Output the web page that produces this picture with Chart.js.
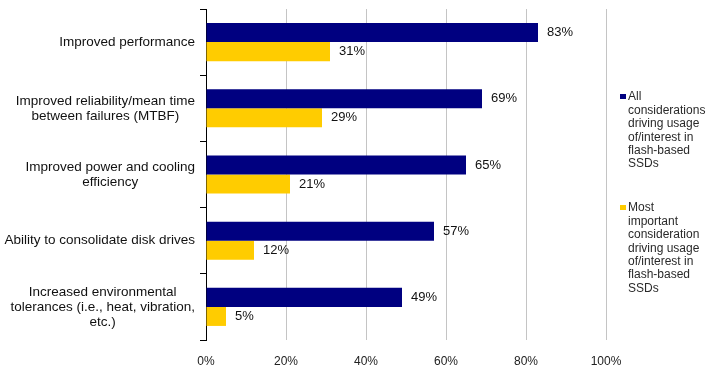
<!DOCTYPE html>
<html>
<head>
<meta charset="utf-8">
<script src="https://cdn.jsdelivr.net/npm/chart.js@4.4.1/dist/chart.umd.min.js"></script>
<style>
  html, body { margin: 0; padding: 0; background: #fff; }
  #wrap { width: 713px; height: 381px; position: relative; }
</style>
</head>
<body>
<div id="wrap"><canvas id="ssdChart"></canvas></div>
<script>
const categories = [
  ['Improved performance'],
  ['Improved reliability/mean time', 'between failures (MTBF)'],
  ['Improved power and cooling', 'efficiency'],
  ['Ability to consolidate disk drives'],
  ['Increased environmental', 'tolerances (i.e., heat, vibration,', 'etc.)']
];
const allConsiderations = [83, 69, 65, 57, 49];
const mostImportant = [31, 29, 21, 12, 5];
const tickValues = [0, 20, 40, 60, 80, 100];

const seriesNames = [
  ['All', 'considerations', 'driving usage', 'of/interest in', 'flash-based', 'SSDs'],
  ['Most', 'important', 'consideration', 'driving usage', 'of/interest in', 'flash-based', 'SSDs']
];

const FONT = '"Liberation Sans", Arial, sans-serif';

// category labels: block right-aligned, lines centred inside the block
const categoryLabels = {
  id: 'categoryLabels',
  afterDraw(chart) {
    const ctx = chart.ctx;
    const y = chart.scales.y;
    const right = chart.chartArea.left - 11;
    const lh = 15;
    ctx.save();
    ctx.font = '13.5px ' + FONT;
    ctx.fillStyle = '#111';
    ctx.textAlign = 'center';
    ctx.textBaseline = 'middle';
    categories.forEach((lines, i) => {
      const cy = y.getPixelForTick(i);
      const widest = Math.max(...lines.map(l => ctx.measureText(l).width));
      const cx = right - widest / 2;
      lines.forEach((l, j) => {
        ctx.fillText(l, cx, cy + (j - (lines.length - 1) / 2) * lh);
      });
    });
    ctx.restore();
  }
};

const valueLabels = {
  id: 'valueLabels',
  afterDatasetsDraw(chart) {
    const ctx = chart.ctx;
    ctx.save();
    ctx.font = '13px ' + FONT;
    ctx.fillStyle = '#111';
    ctx.textAlign = 'left';
    ctx.textBaseline = 'middle';
    chart.data.datasets.forEach((ds, di) => {
      chart.getDatasetMeta(di).data.forEach((bar, i) => {
        ctx.fillText(ds.data[i] + '%', bar.x + 9, bar.y);
      });
    });
    ctx.restore();
  }
};

const sideLegend = {
  id: 'sideLegend',
  afterDraw(chart) {
    const ctx = chart.ctx;
    const colors = ['#000080', '#FFCC00'];
    const starts = [97, 208];
    const lh = 13.4;
    ctx.save();
    ctx.font = '12px ' + FONT;
    ctx.textAlign = 'left';
    ctx.textBaseline = 'middle';
    seriesNames.forEach((lines, s) => {
      ctx.fillStyle = colors[s];
      ctx.fillRect(620, starts[s] - 3, 6, 5);
      ctx.fillStyle = '#2a2a2a';
      lines.forEach((l, j) => ctx.fillText(l, 628, starts[s] + j * lh));
    });
    ctx.restore();
  }
};

document.addEventListener('DOMContentLoaded', function(){
  const ctx = document.getElementById('ssdChart').getContext('2d');

  const data = {
    labels: categories.map(c => c.join(' ')),
    datasets: [{
      label: seriesNames[0].join(' '),
      data: allConsiderations,
      backgroundColor: '#000080',
      borderWidth: 0,
      categoryPercentage: 0.575,
      barPercentage: 1
    }, {
      label: seriesNames[1].join(' '),
      data: mostImportant,
      backgroundColor: '#FFCC00',
      borderWidth: 0,
      categoryPercentage: 0.575,
      barPercentage: 1
    }]
  };

  const options = {
    indexAxis: 'y',
    responsive: true,
    maintainAspectRatio: false,
    animation: false,
    layout: { padding: { top: 9, right: 107, left: 0, bottom: 0 } },
    scales: {
      x: {
        min: 0,
        max: 100,
        afterFit: s => { s.height = 41; },
        afterBuildTicks: s => { s.ticks = tickValues.map(v => ({ value: v })); },
        grid: { color: '#c4c4c4', drawTicks: false },
        border: { display: false },
        ticks: {
          padding: 14,
          color: '#222',
          font: { family: FONT, size: 12 },
          callback: v => v + '%'
        }
      },
      y: {
        afterFit: s => { s.width = 206; },
        grid: { drawOnChartArea: false, drawTicks: true, tickLength: 6, color: '#000' },
        border: { display: true, color: '#000', width: 1 },
        ticks: { display: false }
      }
    },
    plugins: {
      legend: { display: false },
      tooltip: { enabled: false }
    }
  };

  new Chart(ctx, {
    type: 'bar',
    data: data,
    options: options,
    plugins: [categoryLabels, valueLabels, sideLegend]
  });
});
</script>
</body>
</html>
